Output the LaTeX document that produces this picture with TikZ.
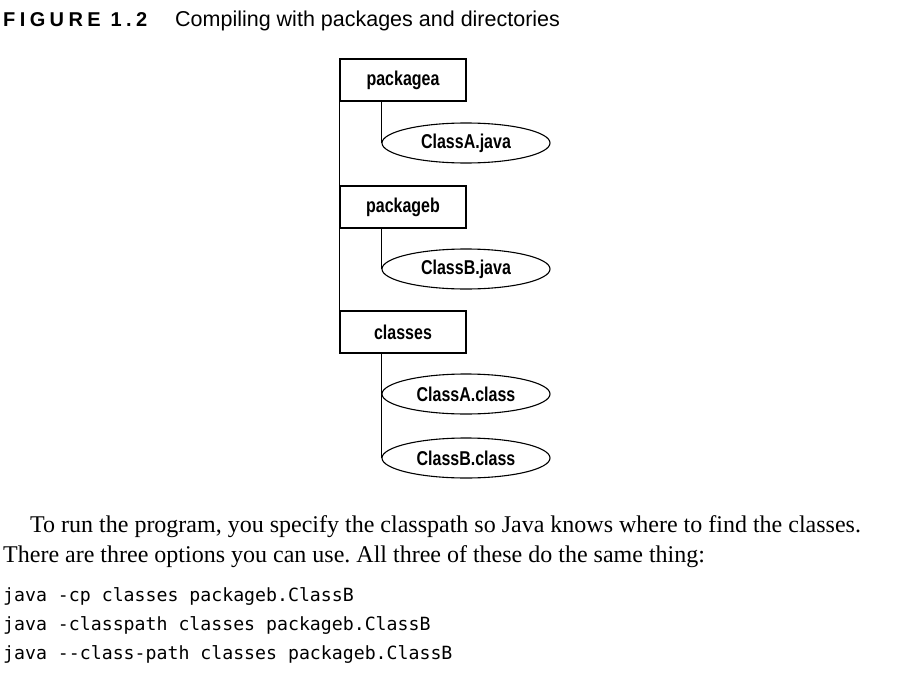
\documentclass[tikz,border=0pt]{standalone}
\usepackage{fontspec}
\usetikzlibrary{shapes.geometric}
\setmainfont{Liberation Serif}
\setsansfont{Liberation Sans}
\setmonofont{DejaVu Sans Mono}
\newfontfamily\condfont[FakeStretch=0.8]{Liberation Sans}
\newfontfamily\figfont[LetterSpace=22]{Liberation Sans}
\frenchspacing
\begin{document}
\begin{tikzpicture}[x=1pt,y=-1pt,
  dirbox/.style={draw, line width=1.1pt, minimum width=126pt, minimum height=42pt, inner sep=0pt,
    font=\condfont\bfseries\fontsize{20}{22}\selectfont},
  filenode/.style={draw, ellipse, line width=1.1pt, minimum width=168pt, minimum height=40pt, inner sep=0pt,
    font=\condfont\bfseries\fontsize{20}{22}\selectfont},
  tree/.style={line width=1.1pt},
  bodytext/.style={anchor=base west, inner sep=0pt, font=\rmfamily\fontsize{24}{26}\selectfont},
  codetext/.style={anchor=base west, inner sep=0pt, font=\ttfamily\fontsize{18.2}{20}\selectfont}]
\useasboundingbox (0,0) rectangle (917,682);
\fill[white] (0,0) rectangle (917,682);
% title
\node[anchor=base west, inner sep=0pt, font=\figfont\bfseries\fontsize{20}{22}\selectfont] (fig) at (3,27) {FIGURE 1.2};
\node[anchor=base west, inner sep=0pt, font=\sffamily\fontsize{21.5}{24}\selectfont] (cap) at (175,27) {Compiling with packages and directories};
% tree
\node[dirbox] (pa) at (403,80) {packagea};
\node[filenode] (ja) at (466,143) {ClassA.java};
\node[dirbox] (pb) at (403,207) {packageb};
\node[filenode] (jb) at (466,269) {ClassB.java};
\node[dirbox] (cl) at (403,332) {classes};
\node[filenode] (ca) at (466,394) {ClassA.class};
\node[filenode] (cb) at (466,458) {ClassB.class};
\draw[tree] (pa.south west) -- (pb.north west);
\draw[tree] (pb.south west) -- (cl.north west);
\draw[tree] (pa.south west -| ja.west) -- (ja.west);
\draw[tree] (pb.south west -| jb.west) -- (jb.west);
\draw[tree] (cl.south west -| cb.west) -- (cb.west);
% body text
\node[bodytext] (p1) at (30,532) {To run the program, you specify the classpath so Java knows where to find the classes.};
\node[bodytext] (p2) at (3,562) {There are three options you can use. All three of these do the same thing:};
\node[codetext] (c1) at (3,601) {java -cp classes packageb.ClassB};
\node[codetext] (c2) at (3,630) {java -classpath classes packageb.ClassB};
\node[codetext] (c3) at (3,659) {java --class-path classes packageb.ClassB};
\end{tikzpicture}
\end{document}
